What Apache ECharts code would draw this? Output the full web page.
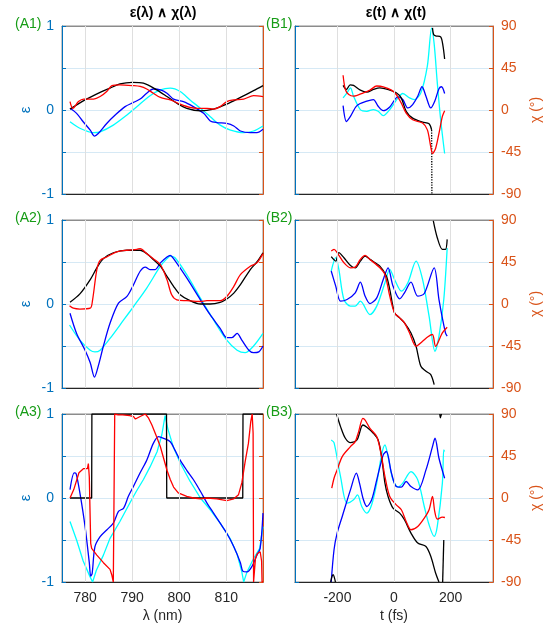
<!DOCTYPE html>
<html><head><meta charset="utf-8">
<script src="https://cdn.jsdelivr.net/npm/echarts@6/dist/echarts.min.js"></script>
<style>html,body{margin:0;padding:0;background:#fff}#c{width:544px;height:628px}</style>
</head><body><div id="c"></div>
<script>
// ---------- tick labels / ranges ----------
const lamTicks = [780, 790, 800, 810];
const tTicks = [-200, 0, 200];
const panelLabelsA = ['(A1)', '(A2)', '(A3)'];
const panelLabelsB = ['(B1)', '(B2)', '(B3)'];

// ---------- A1 : eps(lambda) ----------
const a1Black = [[776.8,0.01],[780,0.12],[783.2,0.21],[785.3,0.26],[787.4,0.31],[790,0.33],[792.4,0.32],[795.2,0.24],[797.4,0.16],[799.5,0.08],[801.6,0.02],[804.5,-0.01],[807.3,0.01],[810.1,0.07],[813,0.15],[815.8,0.23],[817.8,0.29]];
const a1Red = [[776.8,0.1],[777.4,0.02],[778.6,0.1],[779.7,0.13],[781.8,0.13],[783.2,0.16],[784.6,0.22],[785.7,0.29],[787.4,0.3],[790.3,0.29],[791.7,0.28],[793.1,0.25],[794.5,0.2],[796,0.15],[798.1,0.12],[800.2,0.07],[802.3,0.03],[803.8,0.02],[805.9,0.02],[807.3,0.01],[808.7,0.04],[810.1,0.1],[811.6,0.12],[813.7,0.13],[815.8,0.17],[817.8,0.16]];
const a1Cyan = [[776.8,-0.14],[779,-0.22],[781.8,-0.27],[783.2,-0.26],[786,-0.18],[788.9,-0.06],[791,0.04],[793.8,0.17],[796,0.24],[798.1,0.26],[800.2,0.22],[802.3,0.12],[804.5,0.02],[806.6,-0.08],[808.7,-0.18],[810.9,-0.24],[813.7,-0.27],[815.8,-0.25],[817.8,-0.19]];
const a1Blue = [[776.8,0.02],[778.2,-0.04],[779.6,-0.14],[781.1,-0.24],[782,-0.31],[782.8,-0.28],[784.6,-0.16],[786.4,-0.06],[788.5,0.04],[790.3,0.09],[791.7,0.13],[793.1,0.2],[794.5,0.25],[796,0.24],[797.4,0.2],[798.8,0.13],[800.9,0.1],[803,0.04],[805.2,-0.04],[806.6,-0.13],[808,-0.15],[810.1,-0.16],[811.6,-0.19],[813,-0.25],[815.1,-0.27],[816.5,-0.27],[817.8,-0.23]];

// ---------- A2 ----------
const a2Black = [[776.8,0.02],[778.9,0.12],[781.1,0.29],[782.5,0.43],[783.9,0.54],[786,0.61],[788.9,0.64],[791.7,0.64],[793.1,0.6],[794.5,0.53],[796,0.45],[797.4,0.33],[798.8,0.21],[800.2,0.11],[802.3,0.04],[804.5,0.0],[806.6,0.0],[808.7,0.02],[810.1,0.06],[811.6,0.13],[813,0.23],[815.1,0.41],[816.5,0.5],[817.8,0.61]];
const a2Red = [[776.7,-0.02],[777.5,-0.05],[778.9,-0.06],[781.1,-0.05],[781.6,0.05],[782.5,0.41],[783.2,0.52],[784.6,0.56],[786.7,0.62],[788.9,0.64],[791,0.65],[791.7,0.66],[793.1,0.6],[794.5,0.54],[796,0.47],[797.4,0.29],[798.4,0.11],[799.5,0.05],[801.6,0.04],[804.5,0.03],[805.9,0.04],[808.7,0.04],[810.1,0.09],[811.6,0.21],[813,0.35],[815.1,0.45],[816.5,0.49],[817.8,0.6]];
const a2Cyan = [[776.7,-0.25],[778.9,-0.43],[781.1,-0.55],[782.1,-0.57],[783.2,-0.55],[785.3,-0.41],[788.2,-0.19],[790.3,-0.03],[793.1,0.19],[796,0.45],[797.4,0.54],[798.1,0.57],[799.1,0.55],[801.6,0.35],[804.5,0.07],[807.3,-0.19],[810.1,-0.43],[812.3,-0.55],[814,-0.58],[815.8,-0.5],[817.8,-0.35]];
const a2Blue = [[776.8,-0.11],[778.2,-0.35],[780,-0.55],[781.1,-0.7],[782,-0.87],[782.8,-0.74],[783.9,-0.5],[785.3,-0.23],[787.1,0.01],[788.9,0.09],[790.3,0.23],[791.7,0.39],[792.8,0.44],[793.8,0.41],[794.9,0.41],[796,0.49],[797.4,0.56],[798.1,0.58],[798.8,0.54],[801.6,0.31],[804.5,0.05],[806.6,-0.13],[808.7,-0.29],[810.1,-0.4],[811.2,-0.4],[812.3,-0.35],[813.3,-0.43],[814.8,-0.55],[815.8,-0.58],[816.9,-0.57],[817.8,-0.5]];

// ---------- A3 ----------
const a3Black = [[776.8,0],[781.4,0],[781.45,1],[797.3,1],[797.35,0],[813.5,0],[813.55,1],[817.8,1]];
const a3Red = [[776.8,0],[777.6,0.1],[778.7,0.3],[779.7,0.35],[780.5,0.35],[780.7,0.41],[780.9,0.25],[781.2,-0.54],[781.4,-0.6],[782.5,-0.68],[783.9,-0.77],[785.3,-0.85],[785.7,-0.92],[786.0,-1],[786.2,-1],[786.3,1],[787,0.99],[788,0.99],[789.5,0.98],[790.3,0.97],[790.7,0.94],[791.7,0.97],[792.8,1],[793.5,0.95],[794.2,0.87],[795.2,0.73],[796,0.61],[796.7,0.47],[797.4,0.33],[798.1,0.22],[798.8,0.13],[799.8,0.06],[801.6,0.02],[803,0],[804.5,-0.01],[805.9,0],[808,-0.01],[810.1,-0.03],[811.6,-0.01],[812.6,0.04],[813.3,0.18],[814,0.43],[814.7,0.65],[815.2,0.91],[815.5,1],[815.7,0.77],[815.8,-1],[816,-1],[816.2,-0.72],[816.6,-0.66],[817.2,-0.64],[817.5,-0.75],[817.6,-1],[817.8,-1]];
const a3Cyan = [[776.8,-0.28],[778.2,-0.5],[779.6,-0.75],[781,-0.93],[781.6,-1],[782.4,-0.86],[783.9,-0.68],[785.3,-0.48],[787.4,-0.28],[789.6,-0.05],[790.9,0.08],[792.4,0.22],[793.8,0.37],[795.3,0.55],[796.3,0.75],[797,0.98],[797.6,0.82],[798.8,0.6],[800.2,0.42],[802.3,0.2],[804.5,0],[806.6,-0.14],[808.7,-0.3],[810.8,-0.48],[812.3,-0.67],[813.3,-0.88],[813.7,-1],[814.4,-0.88],[815.8,-0.72],[817.1,-0.6],[817.8,-0.34]];
const a3Blue = [[776.8,0.1],[777.7,0.3],[778.1,0.29],[778.9,0.06],[780,-0.34],[780.9,-0.77],[781.2,-0.93],[781.5,-0.9],[782.1,-0.58],[783.2,-0.46],[784.6,-0.38],[786,-0.3],[787.1,-0.16],[788.2,-0.12],[789.2,0.02],[790.3,0.14],[791.7,0.3],[793.1,0.45],[794.5,0.65],[795.6,0.73],[796.7,0.71],[798.1,0.67],[799.1,0.57],[800.2,0.45],[801.6,0.33],[803,0.22],[804.5,0.08],[805.9,-0.06],[807.3,-0.18],[808.7,-0.3],[810.1,-0.42],[811.6,-0.58],[813,-0.77],[813.5,-0.87],[814.4,-0.88],[815.5,-0.81],[816.5,-0.68],[817.2,-0.6],[817.8,-0.18]];

// ---------- B1 : chi(t) in degrees ----------
const b1BlackA = [[-180,26.4],[-168,22],[-155,27],[-143,26.4],[-119,21.3],[-96,19.2],[-73,22],[-50,23.8],[-15,21.3],[8,18.4],[25.5,13],[43,-1.4],[66,-8.7],[101,-13],[124,-14.8],[133,-21.3]];
const b1BlackWrap = [[133,-21.3],[134,-90]];
const b1BlackB = [[136,88],[140,81],[147,79.5],[165,78.4],[173,69],[179,54.6]];
const b1Red = [[-180,37.2],[-172,22],[-160,16.6],[-143,14.8],[-108,18.4],[-85,21.3],[-61,25.7],[-38,24.9],[-9,21.3],[8,16.6],[25.5,7.6],[43,-3.3],[66,-10.5],[101,-14],[118,-21.3],[130,-39.4],[136,-46.6],[147,-41.2],[159,-25],[171,-6.9],[179,-0.7]];
const b1Cyan = [[-180,13],[-166,18.4],[-154,23.8],[-143,14.8],[-119,0.4],[-96,-1.4],[-73,0.4],[-56,-1.4],[-38,-6.1],[-15,0.4],[14,13],[31,17.7],[55,13],[72,11.2],[95,18.4],[118,47.3],[133,87.8],[142,70.8],[153,29.3],[165,-10.5],[179,-46.6]];
const b1Blue = [[-180,4.7],[-168,-12.3],[-154,-6.9],[-131,4.7],[-96,9.4],[-73,11.2],[-56,4],[-38,-0.7],[-15,3.3],[14,14.1],[31,11.2],[49,2.2],[66,5.8],[84,14.8],[99,24.9],[113,14.8],[130,2.2],[144,9.4],[159,22.8],[168,24.9],[179,17.7]];

// ---------- B2 ----------
const b2BlackA = [[-222,50.7],[-206,46],[-195,55],[-177,49.6],[-154,41.3],[-137,38.8],[-119,46],[-102,51.4],[-85,47.8],[-50,40.6],[-27,29.9],[-15,15.6],[2,-9.5],[20,-14.9],[37,-20.2],[60,-31],[78,-45.3],[95,-66.8],[113,-72.1],[130,-75.7],[142,-86.4]];
const b2BlackB = [[139,89],[153,71],[171,58.5],[182,58.5],[188,69.2]];
const b2Red = [[-222,56.7],[-212,58.5],[-201,55],[-177,44.2],[-154,38.8],[-137,39.5],[-119,47.8],[-102,52.1],[-85,47.8],[-50,38.8],[-32,31.7],[-15,8.4],[2,-9.5],[20,-14.9],[37,-20.2],[55,-31],[78,-45.3],[101,-39.9],[120,-35],[136,-32.7],[147,-45.3],[171,-31],[188,-24.9]];
const b2Cyan = [[-222,35.3],[-206,49.6],[-195,37],[-177,4.8],[-154,-2.3],[-137,-2.3],[-119,3],[-85,-11.3],[-61,-2.3],[-32,22.7],[-15,37],[2,26.3],[26,13.8],[49,22.7],[78,46],[101,26.3],[124,-13],[145,-50.6],[159,-34.5],[176,4.8],[188,60]];
const b2Blue = [[-222,35.3],[-206,19.2],[-189,3],[-166,4.8],[-137,12],[-119,23.4],[-102,8.4],[-85,0.5],[-61,6.6],[-38,26.3],[-21,38.8],[-3.5,19.2],[20,5.5],[37,12],[60,23.4],[84,8.4],[107,11.2],[142,38.8],[159,4.8],[182,-31],[188,-34.5]];

// ---------- B3 ----------
const b3BlackA = [[-224,-90],[-219,-84],[-215,-82],[-211,-85],[-207,-90]];
const b3BlackB = [[-203,90],[-189,76.5],[-172,64],[-154,59.3],[-131,62.2],[-110,78.2],[-96,75.7],[-73,69.3],[-56,62.2],[-44,44.4],[-32,15.9],[-21,1.6],[-3.5,-10.9],[20,-16.2],[37,-23.3],[60,-37.6],[84,-48.3],[113,-51.9],[130,-62.5],[147,-80.3],[159,-90]];
const b3BlackC = [[162,90],[164,86],[166,86],[168,90]];
const b3BlackD = [[172,-90],[176,-45]];
const b3Red = [[-220,10.5],[-212,21.2],[-201,30.1],[-183,44.4],[-154,55],[-137,60.4],[-125,71.1],[-110,85.4],[-102,83.5],[-85,74.7],[-61,65.8],[-44,44.4],[-32,23],[-15,1.6],[8,-7.3],[26,-12.6],[43,-25.1],[60,-34],[84,-30.5],[107,-21.6],[124,-12.6],[136,1.6],[144,-14.4],[153,-22.6],[171,-20.5],[180,-20.9]];
const b3Cyan = [[-222,62.2],[-212,59.3],[-189,23],[-166,-5.5],[-143,-1.9],[-129,3.4],[-114,-9.1],[-96,-16.2],[-79,-7.3],[-61,15.9],[-44,46.2],[-32,56.8],[-21,44.4],[-3.5,19.4],[14,11.6],[31,15.9],[60,28.3],[84,19.4],[107,-9.1],[124,-28.7],[142,-41.2],[153,-30.5],[171,15.9],[176,51.5],[179,49.8]];
const b3Blue = [[-222,-90],[-212,-55.4],[-201,-37.6],[-183,-19.8],[-154,8.7],[-133,26.6],[-122,15.9],[-108,-1.9],[-96,-9.1],[-79,-1.9],[-61,19.4],[-38,46.2],[-27,49.8],[-9,26.6],[8,12.3],[26,11.6],[43,17.7],[60,12.3],[84,8.7],[113,30.1],[136,55],[145,64],[159,42.6],[179,21.2]];

// ---------- build ----------
const FONT = '"Liberation Sans", Arial, sans-serif';
const AXBLUE = '#0072BD', ORANGE = '#D95319', GREEN = '#169C16', DARK = '#262626';
const C = {k:'#000000', r:'#ff0000', b:'#0000ff', c:'#00ffff'};
const lefts = [62, 295], tops = [26, 220, 414], W = 201, H = 168;

const panels = [
  {col:0,row:0,lines:[[a1Cyan,'c',1],[a1Blue,'b',1],[a1Black,'k',1],[a1Red,'r',1]]},
  {col:0,row:1,lines:[[a2Cyan,'c',1],[a2Blue,'b',1],[a2Black,'k',1],[a2Red,'r',1]]},
  {col:0,row:2,lines:[[a3Cyan,'c',0],[a3Blue,'b',1],[a3Black,'k',0],[a3Red,'r',0]]},
  {col:1,row:0,lines:[[b1Cyan,'c',1],[b1Blue,'b',1],[b1BlackA,'k',1],[b1BlackB,'k',1],[b1BlackWrap,'k',0,'dotted'],[b1Red,'r',1]]},
  {col:1,row:1,lines:[[b2Cyan,'c',1],[b2Blue,'b',1],[b2BlackA,'k',1],[b2BlackB,'k',1],[b2Red,'r',1]]},
  {col:1,row:2,lines:[[b3Cyan,'c',1],[b3Blue,'b',1],[b3BlackA,'k',1],[b3BlackB,'k',1],[b3BlackC,'k',1],[b3BlackD,'k',1],[b3Red,'r',1]]}
];

const grid = [], xAxis = [], yAxis = [], series = [], graphic = [];
panels.forEach((p, i) => {
  grid.push({left: lefts[p.col], top: tops[p.row], width: W, height: H, show: true,
    borderColor: '#8c8c8c', borderWidth: 1, backgroundColor: 'transparent'});
  const isL = p.col === 0, bottom = p.row === 2;
  const ticks = isL ? lamTicks : tTicks;
  const base = {
    type: 'value', gridIndex: i,
    min: isL ? 775.1 : -350, max: isL ? 817.8 : 350,
    axisLine: {show: true, onZero: false, lineStyle: {color: DARK, width: 1}},
    axisTick: {show: true, inside: true, length: 4, customValues: ticks, lineStyle: {color: DARK}},
    splitLine: {show: false},
  };
  xAxis.push(Object.assign({}, base, {
    position: 'bottom',
    axisLabel: {show: bottom, customValues: ticks, color: DARK, fontSize: 14, fontFamily: FONT, margin: 9},
    name: bottom ? (isL ? 'λ (nm)' : 't (fs)') : '',
    nameLocation: 'middle', nameGap: 27,
    nameTextStyle: {color: DARK, fontSize: 14, fontFamily: FONT}
  }));
  xAxis.push(Object.assign({}, base, {
    position: 'top', axisLine: {show: true, onZero: false, lineStyle: {color: '#8c8c8c', width: 1}},
    axisLabel: {show: false}
  }));
  // left y (epsilon)
  yAxis.push({
    type: 'value', gridIndex: i, position: 'left', min: -1, max: 1, interval: 0.5,
    axisLine: {show: true, onZero: false, lineStyle: {color: AXBLUE, width: 1}},
    axisTick: {show: true, inside: true, length: 4, lineStyle: {color: AXBLUE}},
    axisLabel: {show: isL, color: AXBLUE, fontSize: 14, fontFamily: FONT, margin: 8,
      formatter: v => (Math.abs(v) === 0.5 ? '' : String(v))},
    splitLine: {show: true, lineStyle: {color: '#d6e9f5', width: 1}},
    name: isL ? 'ε' : '', nameLocation: 'middle', nameRotate: 90, nameGap: 29,
    nameTextStyle: {color: AXBLUE, fontSize: 15, fontFamily: FONT}
  });
  // right y (chi)
  yAxis.push({
    type: 'value', gridIndex: i, position: 'right', min: -90, max: 90, interval: 45,
    axisLine: {show: true, onZero: false, lineStyle: {color: ORANGE, width: 1}},
    axisTick: {show: true, inside: true, length: 4, lineStyle: {color: ORANGE}},
    axisLabel: {show: !isL, color: ORANGE, fontSize: 14, fontFamily: FONT, margin: 8},
    splitLine: {show: false},
    name: isL ? '' : 'χ (°)', nameLocation: 'middle', nameRotate: 90, nameGap: 36,
    nameTextStyle: {color: ORANGE, fontSize: 14, fontFamily: FONT}
  });
  // vertical grid lines at the x tick values, through the axis scale
  series.push({
    type: 'line', xAxisIndex: 2 * i, yAxisIndex: 2 * i, data: [], silent: true, animation: false,
    markLine: {silent: true, symbol: ['none', 'none'], label: {show: false}, animation: false,
      lineStyle: {color: '#dfdfdf', width: 1, type: 'solid'},
      data: ticks.map(v => ({xAxis: v}))},
    z: 1
  });
  p.lines.forEach(([data, col, sm, dash]) => {
    series.push({
      type: 'line', xAxisIndex: 2 * i, yAxisIndex: isL ? 2 * i : 2 * i + 1,
      data: data, showSymbol: false, symbol: 'none', smooth: sm ? 0.3 : false,
      lineStyle: {color: C[col], width: 1.3, type: dash || 'solid'},
      clip: true, animation: false, silent: true, z: 3
    });
  });
});

[0,1,2].forEach(r => {
  graphic.push({type: 'text', left: 15, top: tops[r] - 9,
    style: {text: panelLabelsA[r], fill: GREEN, font: '14px ' + FONT}});
  graphic.push({type: 'text', left: 266, top: tops[r] - 9,
    style: {text: panelLabelsB[r], fill: GREEN, font: '14px ' + FONT}});
});
graphic.push({type: 'text', x: 163, y: 13, style: {text: 'ε(λ) ∧ χ(λ)', fill: '#000',
  font: 'bold 14px ' + FONT, align: 'center', verticalAlign: 'middle'}});
graphic.push({type: 'text', x: 396, y: 13, style: {text: 'ε(t) ∧ χ(t)', fill: '#000',
  font: 'bold 14px ' + FONT, align: 'center', verticalAlign: 'middle'}});

const chart = echarts.init(document.getElementById('c'), null, {renderer: 'canvas'});
chart.setOption({animation: false, backgroundColor: '#fff', grid, xAxis, yAxis, series, graphic});
</script></body></html>
